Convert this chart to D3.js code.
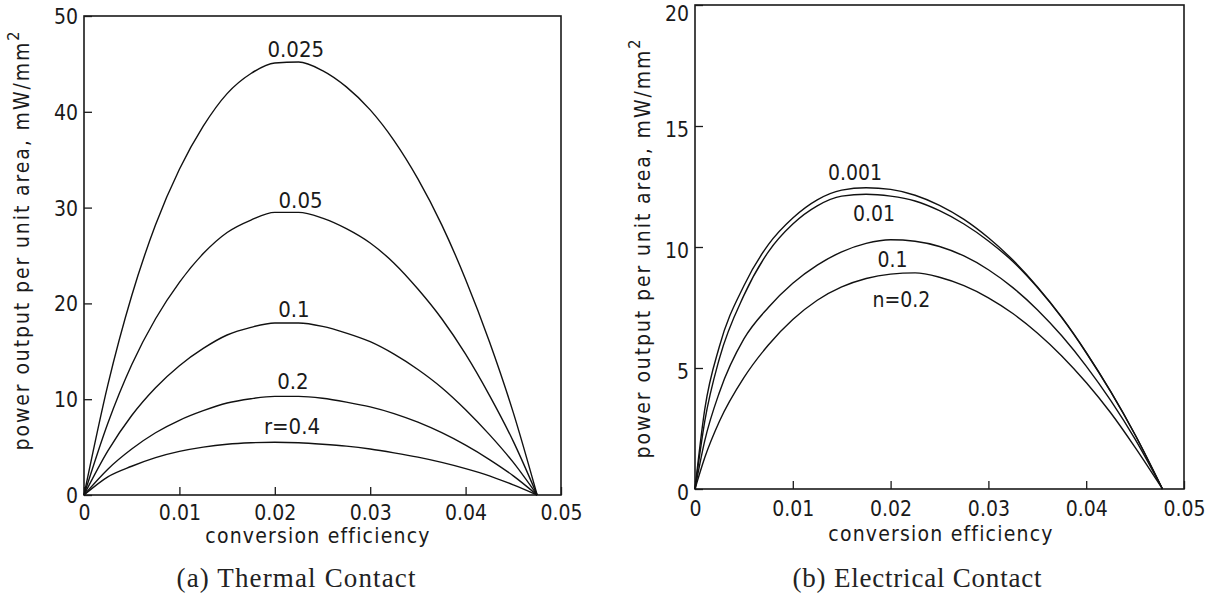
<!DOCTYPE html>
<html>
<head>
<meta charset="utf-8">
<script src="https://cdn.jsdelivr.net/npm/d3@7"></script>
<style>
  html, body { margin: 0; padding: 0; background: #fff; }
  svg { display: block; }
  .sans { font-family: "DejaVu Sans Condensed", "DejaVu Sans", sans-serif; font-stretch: condensed; fill: #1a1a1a; }
  .serif { font-family: "Liberation Serif", "DejaVu Serif", serif; fill: #222; }
</style>
</head>
<body>
<svg id="chart" width="1226" height="603"></svg>
<script>
// ---------- data ----------
const etaA = [0, 0.0025, 0.005, 0.0075, 0.01, 0.0125, 0.015, 0.0175, 0.02, 0.0225, 0.025, 0.0275, 0.03, 0.0325, 0.035, 0.0375, 0.04, 0.0425, 0.045, 0.0475];
const thermalR = ["0.025", "0.05", "0.1", "0.2", "r=0.4"];
const thR0025 = [0, 11.5, 20.8, 28.2, 34.0, 38.5, 41.9, 44.0, 45.1, 45.2, 44.3, 42.6, 40.2, 37.0, 33.0, 28.2, 22.5, 16.0, 8.6, 0];
const thR005  = [0, 7.5, 13.6, 18.4, 22.2, 25.2, 27.4, 28.7, 29.5, 29.5, 28.9, 27.8, 26.3, 24.2, 21.5, 18.4, 14.7, 10.4, 5.6, 0];
const thR01   = [0, 4.6, 8.3, 11.2, 13.5, 15.3, 16.7, 17.5, 17.95, 17.95, 17.6, 16.9, 16.0, 14.7, 13.1, 11.2, 8.9, 6.3, 3.4, 0];
const thR02   = [0, 2.7, 4.8, 6.5, 7.8, 8.8, 9.6, 10.05, 10.3, 10.3, 10.1, 9.7, 9.2, 8.5, 7.6, 6.5, 5.2, 3.7, 2.0, 0];
const thR04   = [0, 1.9, 3.0, 3.9, 4.55, 5.0, 5.3, 5.45, 5.5, 5.45, 5.3, 5.1, 4.8, 4.4, 3.95, 3.4, 2.75, 2.0, 1.05, 0];

const etaB = [0, 0.001, 0.0025, 0.005, 0.0075, 0.01, 0.0125, 0.015, 0.0175, 0.02, 0.0225, 0.025, 0.0275, 0.03, 0.0325, 0.035, 0.0375, 0.04, 0.0425, 0.045, 0.0478];
const electricalN = ["0.001", "0.01", "0.1", "n=0.2"];
const elN0001 = [0, 3.3, 5.9, 8.4, 10.1, 11.2, 11.95, 12.35, 12.45, 12.38, 12.14, 11.72, 11.14, 10.38, 9.46, 8.36, 7.1, 5.65, 4.03, 2.24, 0];
const elN001  = [0, 2.8, 5.4, 8.0, 9.8, 10.95, 11.7, 12.1, 12.18, 12.1, 11.9, 11.5, 10.95, 10.25, 9.4, 8.33, 7.08, 5.63, 4.02, 2.24, 0];
const elN01   = [0, 2.0, 4.0, 6.2, 7.5, 8.5, 9.25, 9.8, 10.15, 10.3, 10.24, 10.02, 9.63, 9.06, 8.32, 7.41, 6.33, 5.08, 3.66, 2.06, 0];
const elN02   = [0, 1.3, 2.8, 4.6, 5.95, 7.0, 7.8, 8.35, 8.7, 8.88, 8.93, 8.75, 8.4, 7.9, 7.25, 6.45, 5.5, 4.4, 3.15, 1.72, 0];

// label anchor points (data coords: eta, value at text baseline)
const thermalLabelPos = [[0.0222, 45.7], [0.0227, 30.0], [0.0220, 18.6], [0.0219, 11.06], [0.0218, 6.37]];
const electricalLabelPos = [[0.01636, 12.77], [0.0183, 11.07], [0.0202, 9.17], [0.0211, 7.52]];

const xTicks = [0, 0.01, 0.02, 0.03, 0.04, 0.05];
const yTicksA = [0, 10, 20, 30, 40, 50];
const yTicksB = [0, 5, 10, 15, 20];

const xTitle = "conversion efficiency";
const yTitle = "power output per unit area,  mW/mm";
const captionA = "(a) Thermal Contact";
const captionB = "(b) Electrical Contact";

// ---------- drawing ----------
const svg = d3.select("#chart");

function panel(cfg) {
  const g = svg.append("g");
  const x = d3.scaleLinear().domain([0, 0.05]).range([cfg.x0, cfg.x1]);
  const y = d3.scaleLinear().domain([0, cfg.ymax]).range([cfg.y0, cfg.y1]);

  g.append("rect")
    .attr("x", cfg.x0).attr("y", cfg.y1)
    .attr("width", cfg.x1 - cfg.x0).attr("height", cfg.y0 - cfg.y1)
    .attr("fill", "none").attr("stroke", "#1a1a1a").attr("stroke-width", 1.6);

  const xa = g.append("g").attr("transform", `translate(0,${cfg.y0})`)
    .call(d3.axisBottom(x).tickValues(xTicks).tickFormat(d => d === 0 ? "0" : d3.format(".2f")(d))
      .tickSizeInner(-8).tickSizeOuter(0).tickPadding(cfg.xpad));
  const ya = g.append("g").attr("transform", `translate(${cfg.x0},0)`)
    .call(d3.axisLeft(y).tickValues(cfg.yticks).tickFormat(d3.format("d"))
      .tickSizeInner(-8).tickSizeOuter(0).tickPadding(6));
  [xa, ya].forEach(a => {
    a.select(".domain").remove();
    a.selectAll("line").attr("stroke", "#1a1a1a").attr("stroke-width", 1.3);
    a.selectAll("text").attr("class", "sans").style("font-size", "21px").attr("fill", "#1a1a1a");
  });
  ya.selectAll("text").attr("dy", cfg.ydy);
  // keep the topmost tick label inside the page
  ya.selectAll("text").filter(d => y(d) < 14).attr("dy", (14 - y.range()[1] + 6) + "px");

  const line = d3.line().x((d, i) => x(cfg.eta[i])).y(d => y(d)).curve(d3.curveMonotoneX);
  cfg.series.forEach(s => {
    g.append("path").attr("d", line(s)).attr("fill", "none")
      .attr("stroke", "#111").attr("stroke-width", 1.4);
  });
  cfg.labels.forEach((t, i) => {
    g.append("text").attr("class", "sans")
      .attr("x", x(cfg.labelPos[i][0])).attr("y", y(cfg.labelPos[i][1]))
      .attr("text-anchor", "middle").style("font-size", cfg.labelSize).text(t);
  });

  g.append("text").attr("class", "sans")
    .attr("x", cfg.xtx).attr("y", cfg.xty).attr("text-anchor", "middle")
    .style("font-size", "21px").style("letter-spacing", "1.2px").text(xTitle);

  const yt = g.append("text").attr("class", "sans")
    .attr("transform", `translate(${cfg.ytx},${cfg.yty}) rotate(-90)`)
    .attr("text-anchor", "middle").style("font-size", "21px").style("letter-spacing", "1.9px");
  yt.append("tspan").text(yTitle);
  yt.append("tspan").attr("dy", -10).style("font-size", "16px").text("2");

  g.append("text").attr("class", "serif")
    .attr("x", cfg.capx).attr("y", 587).attr("text-anchor", "middle")
    .attr("textLength", cfg.capw).attr("lengthAdjust", "spacing")
    .style("font-size", "27px").text(cfg.caption);
}

panel({
  x0: 84, x1: 561, y0: 495, y1: 16, ymax: 50, yticks: yTicksA, xpad: 10, ydy: "0.36em",
  eta: etaA, series: [thR0025, thR005, thR01, thR02, thR04],
  labels: thermalR, labelPos: thermalLabelPos, labelSize: "22px",
  xtx: 318, xty: 543, ytx: 29, yty: 240, capx: 296, capw: 239, caption: captionA
});
panel({
  x0: 695, x1: 1184, y0: 489, y1: 5, ymax: 20, yticks: yTicksB, xpad: 12, ydy: "0.5em",
  eta: etaB, series: [elN0001, elN001, elN01, elN02],
  labels: electricalN, labelPos: electricalLabelPos, labelSize: "21px",
  xtx: 941, xty: 541, ytx: 650, yty: 248, capx: 917, capw: 249, caption: captionB
});
</script>
</body>
</html>
